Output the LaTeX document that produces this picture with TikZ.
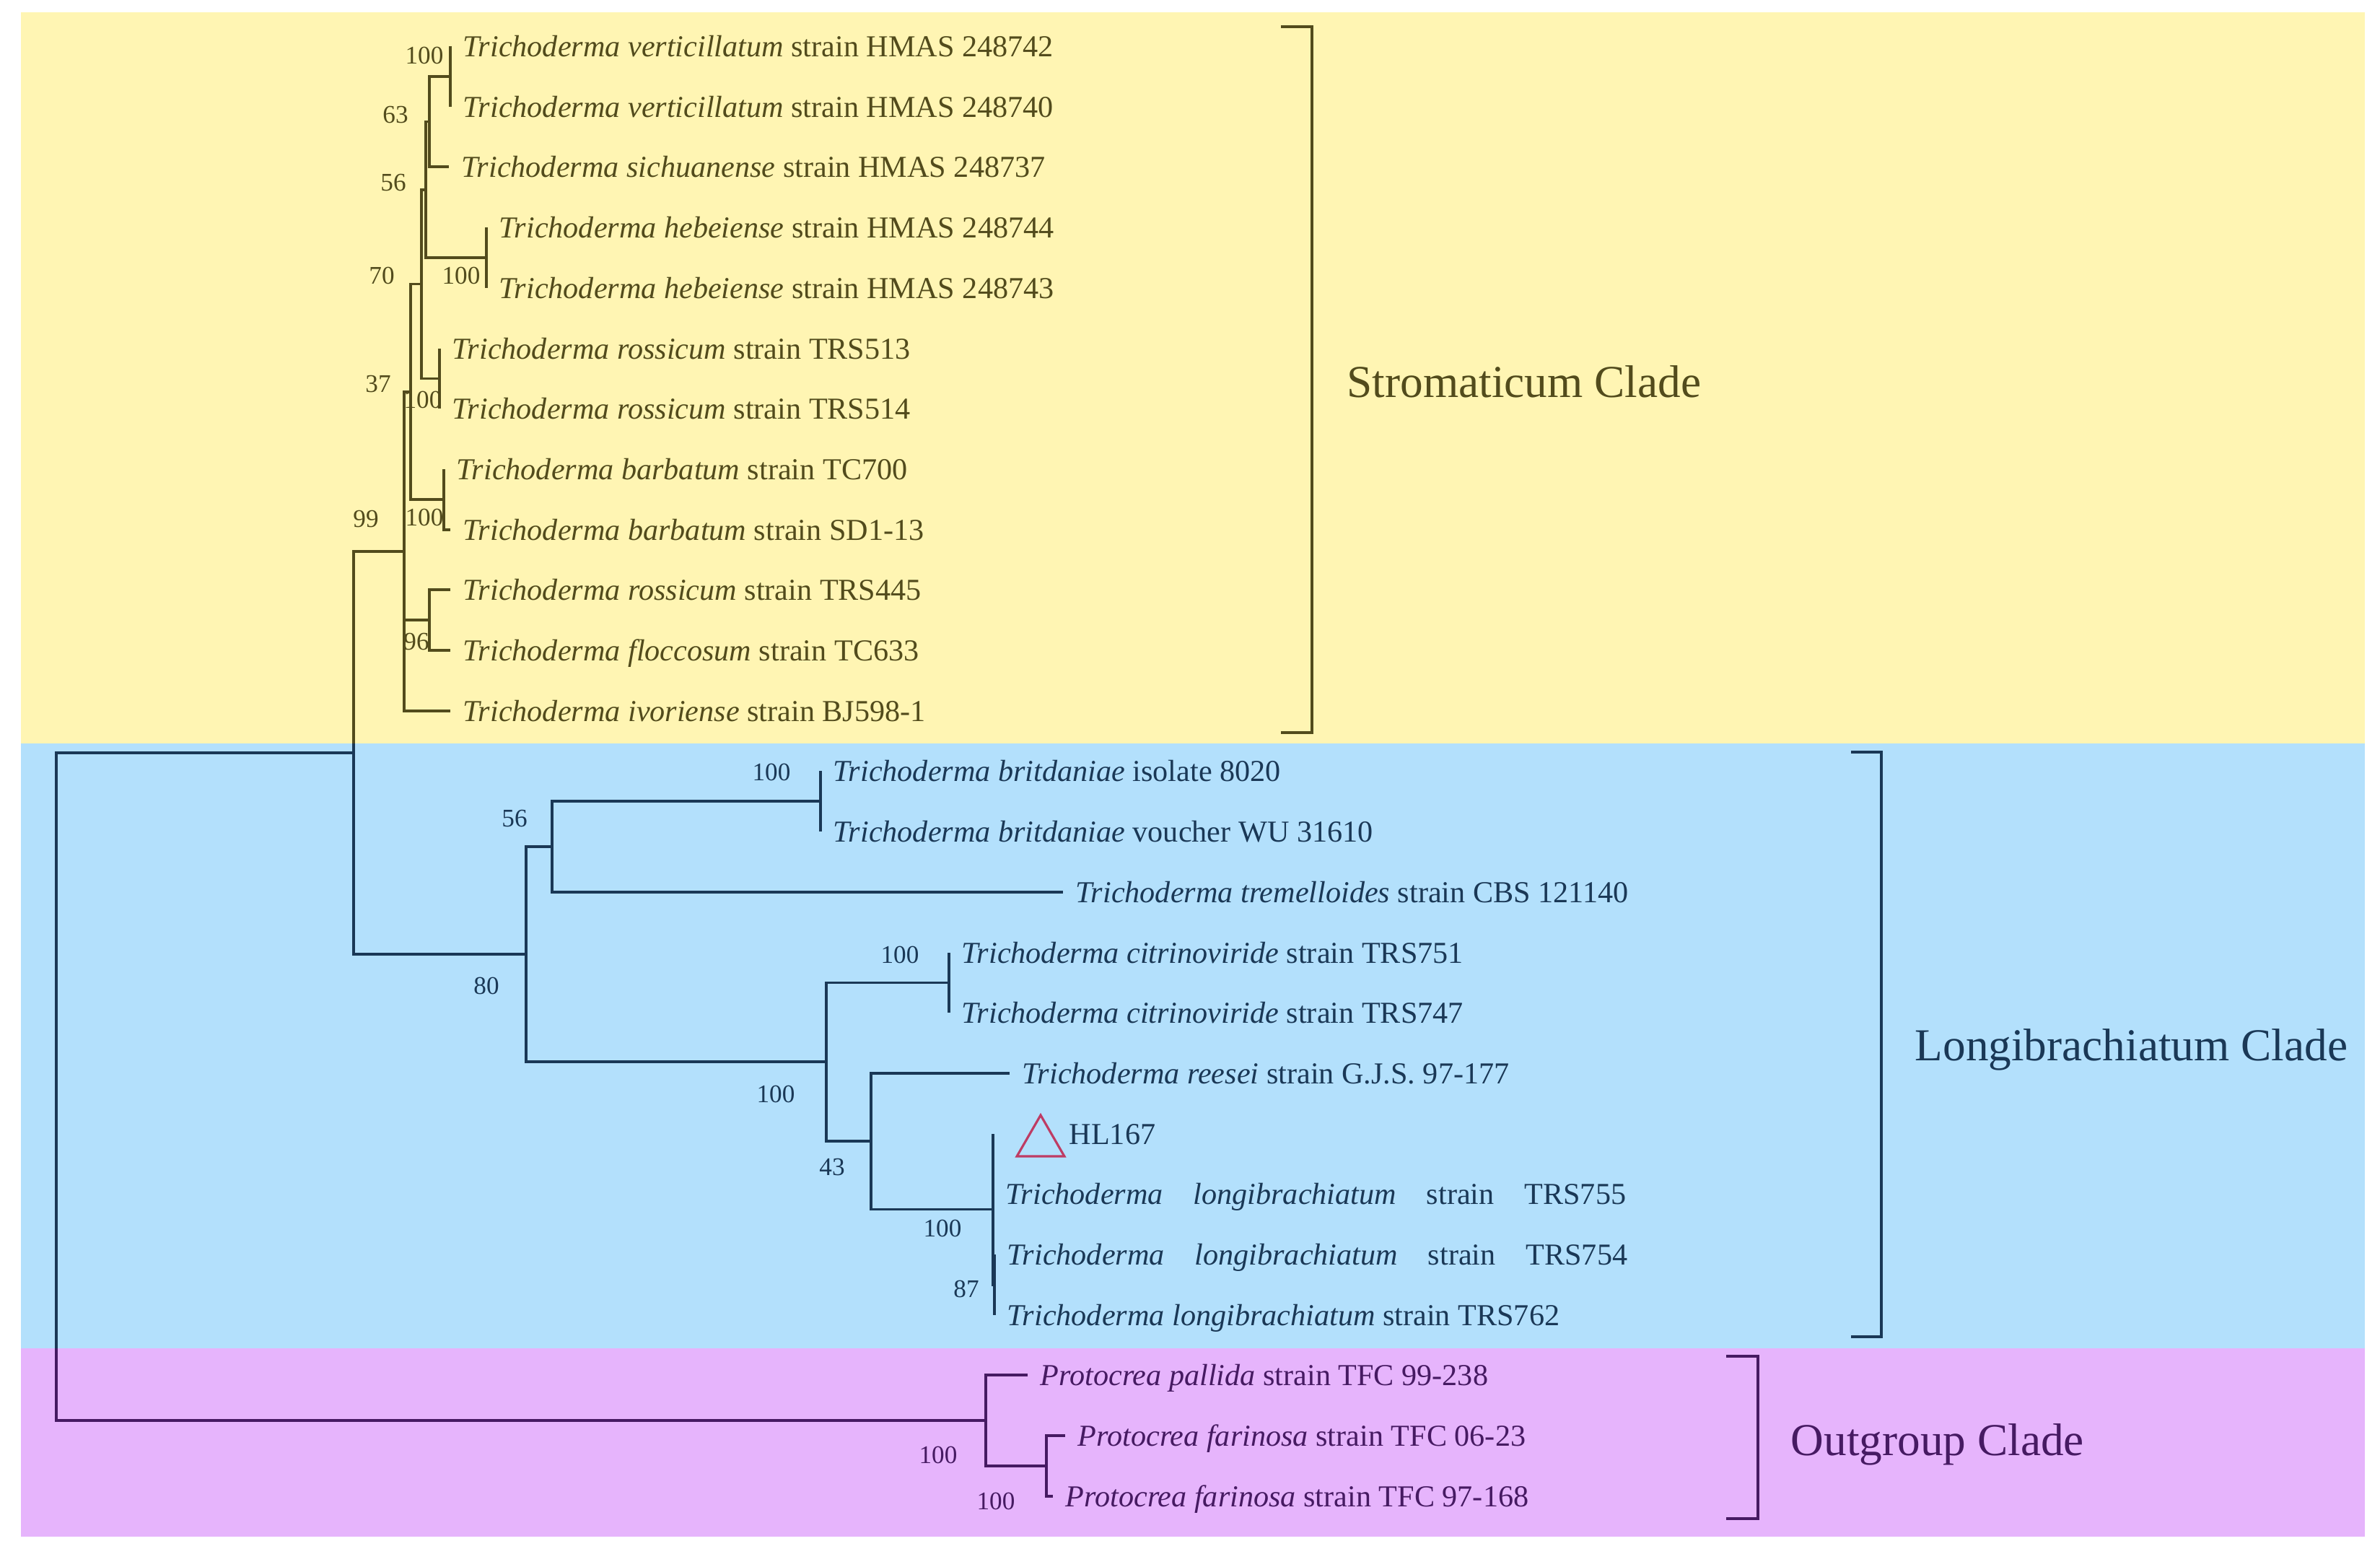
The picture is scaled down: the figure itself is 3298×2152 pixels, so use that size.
\documentclass[tikz,border=0pt]{standalone}
\usepackage{fontspec}
\setmainfont{Liberation Serif}
\usepackage{tikz}
\usetikzlibrary{shapes.geometric}

\definecolor{stromabg}{RGB}{255,245,179}
\definecolor{longibg}{RGB}{179,224,252}
\definecolor{outbg}{RGB}{230,180,252}
\definecolor{stromaink}{RGB}{82,75,28}
\definecolor{longiink}{RGB}{26,56,86}
\definecolor{outink}{RGB}{70,26,98}
\definecolor{hlred}{RGB}{190,60,100}

\newcommand{\wideleaf}[1]{\hbox to 8.59cm{\textit{Trichoderma}\hfill\textit{longibrachiatum}\hfill strain\hfill #1}}

\tikzset{
  leaf/.style={anchor=west, inner xsep=0.17cm, inner ysep=0pt, text height=0.28cm, text depth=0pt, font=\fontsize{12}{14}\selectfont},
  boot/.style={inner sep=0pt, font=\fontsize{10}{12}\selectfont},
  clade/.style={anchor=west, inner sep=0pt, text height=0.42cm, text depth=0pt, font=\fontsize{18}{22}\selectfont},
  branch/.style={line width=1pt},
  cladebar/.style={line width=1.2pt},
}

\begin{document}
\begin{tikzpicture}[x=0.01cm, y=-0.01cm]
		\useasboundingbox (0,0) rectangle (3298,2152);
		% clade backgrounds
		\fill[stromabg] (29,17) rectangle (3277,1030);
		\fill[longibg] (29,1030) rectangle (3277,1868);
		\fill[outbg] (29,1868) rectangle (3277,2129);

		% inner nodes of the tree
		\coordinate (n100a) at (624,106);
		\coordinate (n63) at (595,168.5);
		\coordinate (n100b) at (674,357);
		\coordinate (n56) at (590,262.75);
		\coordinate (n100c) at (609,524.5);
		\coordinate (n70) at (584,393.6);
		\coordinate (n100d) at (615,692);
		\coordinate (n37) at (569,542.8);
		\coordinate (n96) at (595,859);
		\coordinate (n99) at (560,763.9);
		\coordinate (nT) at (490,1043);
		\coordinate (ybT) at (490,1030);
		\coordinate (n100e) at (1137,1110);
		\coordinate (n56b) at (765,1173);
		\coordinate (n100f) at (1315,1361.5);
		\coordinate (a19) at (1376,1571);
		\coordinate (n87) at (1378,1780);
		\coordinate (n100h) at (1376,1675.5);
		\coordinate (n43) at (1207,1581);
		\coordinate (n100g) at (1145,1471);
		\coordinate (n80) at (729,1322);
		\coordinate (pbR) at (78,1868);
		\coordinate (n100j) at (1450,2031);
		\coordinate (n100i) at (1366,1968);

		% Stromaticum clade
		\begin{scope}[stromaink]
		\node[leaf] (l1) at (624,64) {\textit{Trichoderma verticillatum} strain HMAS 248742};
		\node[leaf] (l2) at (624,148) {\textit{Trichoderma verticillatum} strain HMAS 248740};
		\node[leaf] (l3) at (622,231) {\textit{Trichoderma sichuanense} strain HMAS 248737};
		\node[leaf] (l4) at (674,315) {\textit{Trichoderma hebeiense} strain HMAS 248744};
		\node[leaf] (l5) at (674,399) {\textit{Trichoderma hebeiense} strain HMAS 248743};
		\node[leaf] (l6) at (609,483) {\textit{Trichoderma rossicum} strain TRS513};
		\node[leaf] (l7) at (609,566) {\textit{Trichoderma rossicum} strain TRS514};
		\node[leaf] (l8) at (615,650) {\textit{Trichoderma barbatum} strain TC700};
		\node[leaf] (l9) at (624,734) {\textit{Trichoderma barbatum} strain SD1-13};
		\node[leaf] (l10) at (624,817) {\textit{Trichoderma rossicum} strain TRS445};
		\node[leaf] (l11) at (624,901) {\textit{Trichoderma floccosum} strain TC633};
		\node[leaf] (l12) at (624,985) {\textit{Trichoderma ivoriense} strain BJ598-1};

		\draw[branch] (l1.west) -| (n100a) |- (l2.west);
		\draw[branch] (n100a) -| (n63) |- (l3.west);
		\draw[branch] (l4.west) -| (n100b) |- (l5.west);
		\draw[branch] (n63) -| (n56) |- (n100b);
		\draw[branch] (l6.west) -| (n100c) |- (l7.west);
		\draw[branch] (n56) -| (n70) |- (n100c);
		\draw[branch] (l8.west) -| (n100d) |- (l9.west);
		\draw[branch] (n70) -| (n37) |- (n100d);
		\draw[branch] (l10.west) -| (n96) |- (l11.west);
		\draw[branch] (n37) -| (n99) |- (l12.west);
		\draw[branch] (n99) |- (n96);
		\draw[branch] (n99) -| (ybT);

		\node[boot] (b100a) at (588,77) {100};
		\node[boot] (b63) at (548,159) {63};
		\node[boot] (b56) at (545,253) {56};
		\node[boot] (b70) at (529,382) {70};
		\node[boot] (b100b) at (639,382) {100};
		\node[boot] (b37) at (524,532) {37};
		\node[boot] (b100c) at (586,554) {100};
		\node[boot] (b99) at (507,719) {99};
		\node[boot] (b100d) at (588,717) {100};
		\node[boot] (b96) at (577,889) {96};

		\draw[cladebar] (1775,37) -- (1818,37) -- (1818,1015) -- (1775,1015);
		\node[clade] (stroma) at (1866,529) {Stromaticum Clade};
		\end{scope}

		% Longibrachiatum clade
		\begin{scope}[longiink]
		\node[leaf] (l13) at (1137,1068) {\textit{Trichoderma britdaniae} isolate 8020};
		\node[leaf] (l14) at (1137,1152) {\textit{Trichoderma britdaniae} voucher WU 31610};
		\node[leaf] (l15) at (1473,1236) {\textit{Trichoderma tremelloides} strain CBS 121140};
		\node[leaf] (l16) at (1315,1320) {\textit{Trichoderma citrinoviride} strain TRS751};
		\node[leaf] (l17) at (1315,1403) {\textit{Trichoderma citrinoviride} strain TRS747};
		\node[leaf] (l18) at (1399,1487) {\textit{Trichoderma reesei} strain G.J.S. 97-177};
		\node[leaf] (l19) at (1464,1571) {HL167};
		\node[leaf] (l20) at (1376,1654) {\wideleaf{TRS755}};
		\node[leaf] (l21) at (1378,1738) {\wideleaf{TRS754}};
		\node[leaf] (l22) at (1378,1822) {\textit{Trichoderma longibrachiatum} strain TRS762};
		\node[draw=hlred, regular polygon, regular polygon sides=3, minimum size=0.76cm, inner sep=0pt, line width=0.9pt] (hltri) at (1442,1583) {};

		\draw[branch] (ybT) |- (n80);
		\draw[branch] (nT) -| (pbR);
		\draw[branch] (l13.west) -| (n100e) |- (l14.west);
		\draw[branch] (n100e) -| (n56b) |- (l15.west);
		\draw[branch] (l16.west) -| (n100f) |- (l17.west);
		\draw[branch] (n100f) -| (n100g) |- (n43);
		\draw[branch] (l18.west) -| (n43) |- (n100h);
		\draw[branch] (a19) |- (l20.west);
		\draw[branch] (a19) |- (n87);
		\draw[branch] (l21.west) -| (n87) |- (l22.west);
		\draw[branch] (n56b) -| (n80) |- (n100g);

		\node[boot] (b100e) at (1069,1070) {100};
		\node[boot] (b56b) at (713,1134) {56};
		\node[boot] (b80) at (674,1366) {80};
		\node[boot] (b100f) at (1247,1323) {100};
		\node[boot] (b100g) at (1075,1516) {100};
		\node[boot] (b43) at (1153,1617) {43};
		\node[boot] (b100h) at (1306,1702) {100};
		\node[boot] (b87) at (1339,1786) {87};

		\draw[cladebar] (2565,1042) -- (2607,1042) -- (2607,1852) -- (2565,1852);
		\node[clade] (longi) at (2653,1448) {Longibrachiatum Clade};
		\end{scope}

		% Outgroup clade
		\begin{scope}[outink]
		\node[leaf] (l23) at (1424,1905) {\textit{Protocrea pallida} strain TFC 99-238};
		\node[leaf] (l24) at (1476,1989) {\textit{Protocrea farinosa} strain TFC 06-23};
		\node[leaf] (l25) at (1459,2073) {\textit{Protocrea farinosa} strain TFC 97-168};

		\draw[branch] (pbR) |- (n100i);
		\draw[branch] (l23.west) -| (n100i) |- (n100j);
		\draw[branch] (l24.west) -| (n100j) |- (l25.west);

		\node[boot] (b100i) at (1300,2016) {100};
		\node[boot] (b100j) at (1380,2080) {100};

		\draw[cladebar] (2392,1879) -- (2436,1879) -- (2436,2104) -- (2392,2104);
		\node[clade] (outgrp) at (2481,1995) {Outgroup Clade};
		\end{scope}
\end{tikzpicture}
\end{document}
